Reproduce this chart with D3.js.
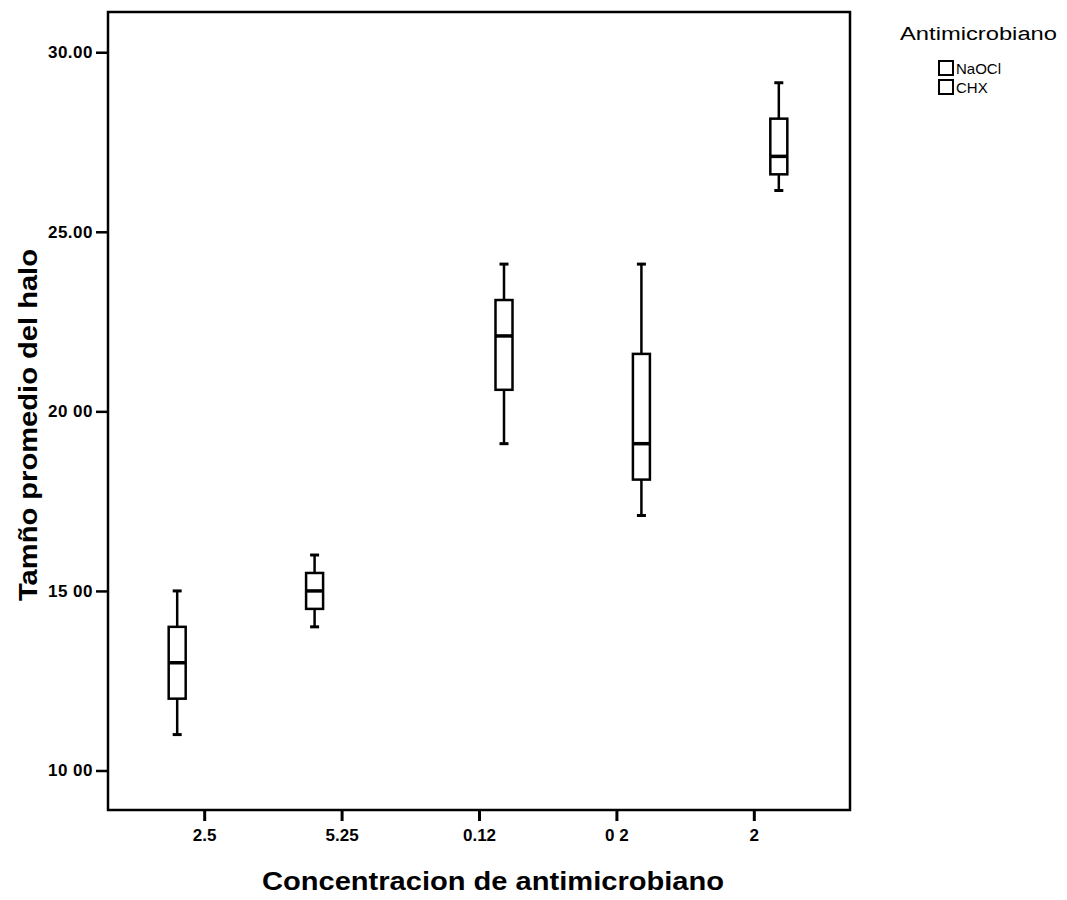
<!DOCTYPE html>
<html>
<head>
<meta charset="utf-8">
<script src="https://cdn.jsdelivr.net/npm/d3@7"></script>
<style>
  body { margin: 0; background: #fff; }
  text { font-family: "Liberation Sans", Arial, sans-serif; fill: #000; }
</style>
</head>
<body>
<div id="chart"></div>
<script>
// Data
const categories = ["2.5", "5.25", "0.12", "0 2", "2"];
const groups = ["NaOCl", "CHX"];
const boxGroup = ["NaOCl", "NaOCl", "CHX", "CHX", "CHX"];
const whiskerLow = [11.0, 14.0, 19.1, 17.1, 26.15];
const q1 = [12.0, 14.5, 20.6, 18.1, 26.6];
const median = [13.0, 15.0, 22.1, 19.1, 27.1];
const q3 = [14.0, 15.5, 23.1, 21.6, 28.15];
const whiskerHigh = [15.0, 16.0, 24.1, 24.1, 29.15];
const yTicks = [10, 15, 20, 25, 30];
const yTickLabels = ["10 00", "15 00", "20 00", "25.00", "30.00"];

const boxes = categories.map((c, i) => ({
  cat: c,
  group: boxGroup[i],
  lo: whiskerLow[i],
  q1: q1[i],
  med: median[i],
  q3: q3[i],
  hi: whiskerHigh[i],
}));

// Dimensions
const dimensions = {
  width: 1067,
  height: 900,
  left: 108,
  right: 850,
  top: 12,
  bottom: 810,
};

const svg = d3
  .select("#chart")
  .append("svg")
  .attr("width", dimensions.width)
  .attr("height", dimensions.height);

// Scales
const xScale = d3
  .scalePoint()
  .domain(categories)
  .range([dimensions.left, dimensions.right])
  .padding(0.7);

// NaOCl sits left of the category centre, CHX right
const groupOffset = d3.scalePoint().domain(groups).range([-27, 25]);

const yScale = d3
  .scaleLinear()
  .domain([8.9, 31.12])
  .range([dimensions.bottom, dimensions.top]);

// Frame
svg
  .append("rect")
  .attr("x", dimensions.left)
  .attr("y", dimensions.top)
  .attr("width", dimensions.right - dimensions.left)
  .attr("height", dimensions.bottom - dimensions.top)
  .attr("fill", "none")
  .attr("stroke", "#000")
  .attr("stroke-width", 2.5);

// Axes
const yAxis = d3
  .axisLeft(yScale)
  .tickValues(yTicks)
  .tickSize(12)
  .tickPadding(3)
  .tickFormat((d, i) => yTickLabels[i]);

svg
  .append("g")
  .attr("transform", `translate(${dimensions.left}, 0)`)
  .call(yAxis)
  .call((g) => g.select(".domain").remove())
  .call((g) => g.selectAll("line").attr("stroke-width", 2.5))
  .call((g) =>
    g
      .selectAll("text")
      .attr("font-size", 17)
      .attr("font-weight", "bold")
      .attr("letter-spacing", 0.5)
  );

const xAxis = d3.axisBottom(xScale).tickSize(11).tickPadding(8);

svg
  .append("g")
  .attr("transform", `translate(0, ${dimensions.bottom})`)
  .call(xAxis)
  .call((g) => g.select(".domain").remove())
  .call((g) => g.selectAll("line").attr("stroke-width", 3))
  .call((g) =>
    g.selectAll("text").attr("font-size", 17).attr("font-weight", "bold")
  );

// Boxes
const boxWidth = 17;
const capWidth = 9;
const boxG = svg
  .append("g")
  .selectAll("g")
  .data(boxes)
  .join("g")
  .attr(
    "transform",
    (d) => `translate(${xScale(d.cat) + groupOffset(d.group)}, 0)`
  );

// whisker
boxG
  .append("line")
  .attr("x1", 0)
  .attr("x2", 0)
  .attr("y1", (d) => yScale(d.hi))
  .attr("y2", (d) => yScale(d.lo))
  .attr("stroke", "#000")
  .attr("stroke-width", 2.5);

boxG
  .selectAll(".cap")
  .data((d) => [d.lo, d.hi])
  .join("line")
  .attr("class", "cap")
  .attr("x1", -capWidth / 2)
  .attr("x2", capWidth / 2)
  .attr("y1", (v) => yScale(v))
  .attr("y2", (v) => yScale(v))
  .attr("stroke", "#000")
  .attr("stroke-width", 3);

boxG
  .append("rect")
  .attr("x", -boxWidth / 2)
  .attr("width", boxWidth)
  .attr("y", (d) => yScale(d.q3))
  .attr("height", (d) => yScale(d.q1) - yScale(d.q3))
  .attr("fill", "#fff")
  .attr("stroke", "#000")
  .attr("stroke-width", 2.5);

boxG
  .append("line")
  .attr("x1", -boxWidth / 2)
  .attr("x2", boxWidth / 2)
  .attr("y1", (d) => yScale(d.med))
  .attr("y2", (d) => yScale(d.med))
  .attr("stroke", "#000")
  .attr("stroke-width", 3.5);

// Axis titles
svg
  .append("text")
  .attr("x", 493)
  .attr("y", 890)
  .attr("text-anchor", "middle")
  .attr("font-size", 25)
  .attr("font-weight", "bold")
  .attr("textLength", 462)
  .attr("lengthAdjust", "spacingAndGlyphs")
  .text("Concentracion de antimicrobiano");

svg
  .append("text")
  .attr("transform", "translate(37, 425) rotate(-90)")
  .attr("text-anchor", "middle")
  .attr("font-size", 25)
  .attr("font-weight", "bold")
  .attr("textLength", 352)
  .attr("lengthAdjust", "spacingAndGlyphs")
  .text("Tamño promedio del halo");

// Legend
const legend = svg.append("g").attr("transform", "translate(900, 0)");
legend
  .append("text")
  .attr("x", 0)
  .attr("y", 40)
  .attr("font-size", 18)
  .attr("textLength", 157)
  .attr("lengthAdjust", "spacingAndGlyphs")
  .text("Antimicrobiano");

const legendItem = legend
  .selectAll(".item")
  .data(groups)
  .join("g")
  .attr("class", "item")
  .attr("transform", (d, i) => `translate(39, ${61 + i * 19})`);

legendItem
  .append("rect")
  .attr("width", 14)
  .attr("height", 14)
  .attr("fill", "#fff")
  .attr("stroke", "#000")
  .attr("stroke-width", 2);

legendItem
  .append("text")
  .attr("x", 17)
  .attr("y", 13)
  .attr("font-size", 15)
  .text((d) => d);
</script>
</body>
</html>
